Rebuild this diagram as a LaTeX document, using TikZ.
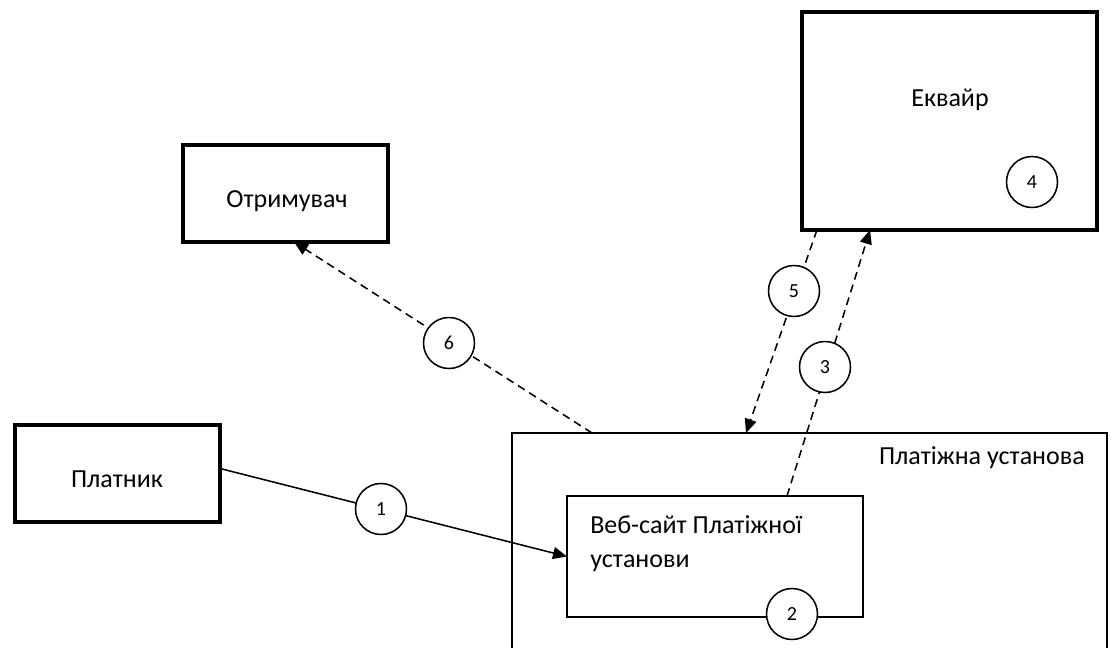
\documentclass[tikz,border=0pt]{standalone}
\usepackage{fontspec}
\setmainfont{Carlito}
\usetikzlibrary{arrows.meta,calc}
\begin{document}
\begin{tikzpicture}[x=0.75pt,y=-0.75pt,
  box/.style={draw, line width=2.7pt, inner sep=0pt, outer sep=0pt},
  thinbox/.style={draw, line width=1.15pt, inner sep=0pt, outer sep=0pt},
  lbl/.style={font=\fontsize{19.5}{23}\selectfont, inner sep=0pt, anchor=base},
  num/.style={circle, draw, fill=white, line width=1.15pt, minimum size=38.25pt, inner sep=0pt, font=\fontsize{15}{17}\selectfont},
  conn/.style={line width=1.15pt, -{Triangle[length=10.5pt,width=9pt]}},
  dconn/.style={conn, dash pattern=on 6pt off 4pt}]
\clip (0,0) rectangle (1111,648);
\fill[white] (0,0) rectangle (1111,648);
% boxes
\node[box, minimum width=221.25pt, minimum height=163.5pt] (acq) at (949.5,121) {};
\node[box, minimum width=153.75pt, minimum height=72.75pt] (rec) at (285.5,193.5) {};
\node[box, minimum width=153.75pt, minimum height=72.75pt] (pay) at (117.5,473.5) {};
\node[thinbox, minimum width=446.25pt, minimum height=200.25pt] (inst) at (809.5,566.5) {};
\node[thinbox, fill=white, minimum width=222pt, minimum height=90.75pt] (web) at (715,556.5) {};
% texts
\node[lbl] (tacq) at (950,107) {Еквайр};
\node[lbl] (trec) at (287,208) {Отримувач};
\node[lbl] (tpay) at (117,488) {Платник};
\node[lbl, anchor=base east] (tinst) at (1085,465) {Платіжна установа};
\node[lbl, anchor=base west] (tweba) at (590,533) {Веб-сайт Платіжної};
\node[lbl, anchor=base west] (twebb) at (590,567) {установи};
% connectors
\draw[conn] ([yshift=3.75pt]pay.east) -- (web.west);
\draw[dconn] ([xshift=54pt]web.north) -- ([xshift=-59.6pt]acq.south);
\draw[dconn] ([xshift=-99.4pt]acq.south) -- ([xshift=-47.6pt]inst.north);
\draw[dconn] ([xshift=-163.1pt]inst.north) -- ([xshift=6.4pt]rec.south);
% numbered circles
\node[num] (n1) at (381,509) {1};
\node[num] (n2) at (792,614) {2};
\node[num] (n3) at (825,367) {3};
\node[num] (n4) at (1032,182) {4};
\node[num] (n5) at (794,291) {5};
\node[num] (n6) at (449,343) {6};
\end{tikzpicture}
\end{document}
